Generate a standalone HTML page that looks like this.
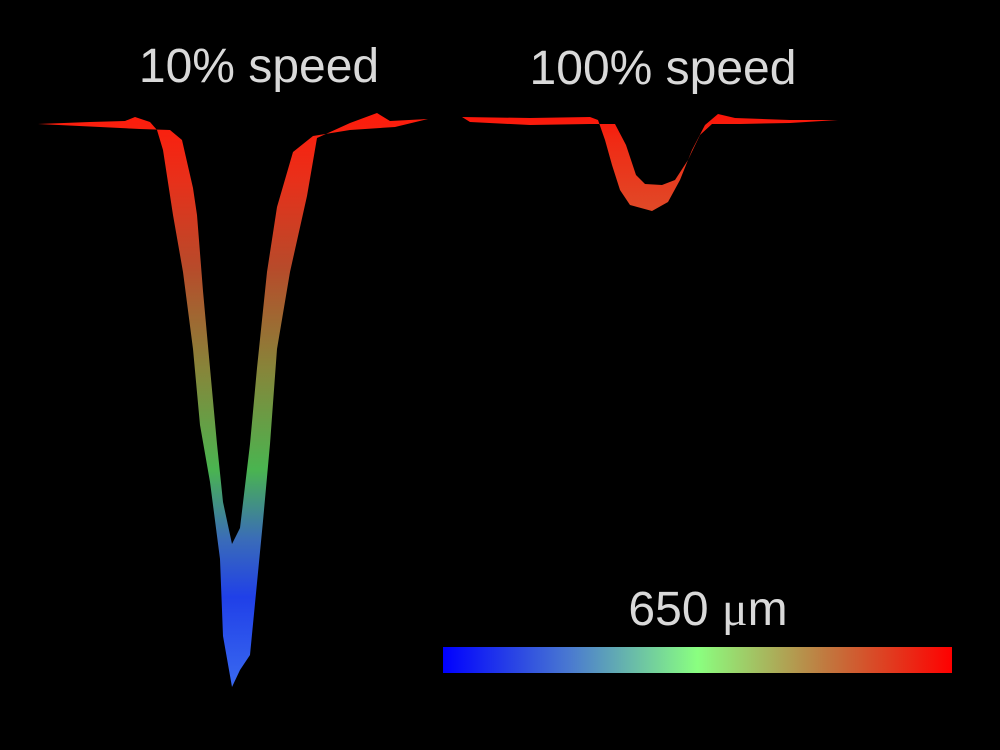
<!DOCTYPE html>
<html><head><style>
html,body{margin:0;padding:0;background:#000;width:1000px;height:750px;overflow:hidden}
</style></head><body>
<svg width="1000" height="750" viewBox="0 0 1000 750" xmlns="http://www.w3.org/2000/svg">
<defs>
<linearGradient id="v" x1="0" y1="110" x2="0" y2="690" gradientUnits="userSpaceOnUse">
<stop offset="0" stop-color="#ff1a0a"/>
<stop offset="0.12" stop-color="#e8301a"/>
<stop offset="0.27" stop-color="#b84a2a"/>
<stop offset="0.45" stop-color="#86863a"/>
<stop offset="0.62" stop-color="#4ab450"/>
<stop offset="0.74" stop-color="#3a6cb8"/>
<stop offset="0.84" stop-color="#2040e8"/>
<stop offset="1" stop-color="#3a6af0"/>
</linearGradient>
<linearGradient id="s" x1="0" y1="110" x2="0" y2="212" gradientUnits="userSpaceOnUse">
<stop offset="0" stop-color="#ff1006"/>
<stop offset="0.3" stop-color="#f02a14"/>
<stop offset="1" stop-color="#e04a28"/>
</linearGradient>
<linearGradient id="cb" x1="0" x2="1" y1="0" y2="0">
<stop offset="0" stop-color="#0000ff"/>
<stop offset="0.25" stop-color="#4a7ad0"/>
<stop offset="0.5" stop-color="#8aff80"/>
<stop offset="0.75" stop-color="#c07a40"/>
<stop offset="1" stop-color="#ff0000"/>
</linearGradient>
</defs>
<path fill="url(#v)" d="M38,124 L90,122 L125,121 L135,117 L150,122 L157,130 L163,150 L173,215 L183,272 L193,349 L200,425 L210,482 L220,559 L223,636 L232,687 L240,670 L250,655 L263,521 L270,444 L277,349 L290,272 L307,196 L317,138 L350,123 L377,113 L390,121 L428,119 L395,127 L350,130 L313,136 L293,152 L277,207 L267,272 L257,368 L250,444 L240,528 L232,544 L223,502 L217,444 L210,368 L203,291 L197,215 L193,188 L182,140 L170,130 L140,129 L100,127 Z"/>
<path fill="url(#s)" d="M462,117 L530,118 L590,117 L598,120 L605,140 L612,165 L620,190 L630,205 L652,211 L668,202 L680,180 L692,150 L705,125 L718,114 L735,118 L790,120 L838,120 L790,123 L740,124 L712,124 L700,135 L688,160 L675,180 L662,185 L645,184 L636,175 L626,145 L615,124 L590,124 L530,125 L470,122 Z"/>
<rect x="443" y="647" width="509" height="26" fill="url(#cb)"/>
<text x="259" y="82" fill="#d9d9d9" font-family="Liberation Sans, sans-serif" font-size="48" text-anchor="middle">10% speed</text>
<text x="663" y="84" fill="#d9d9d9" font-family="Liberation Sans, sans-serif" font-size="48" text-anchor="middle">100% speed</text>
<text x="708" y="625" fill="#d9d9d9" font-family="Liberation Sans, sans-serif" font-size="48" text-anchor="middle">650 <tspan font-family="Liberation Serif, serif">μ</tspan>m</text>
</svg>
</body></html>
